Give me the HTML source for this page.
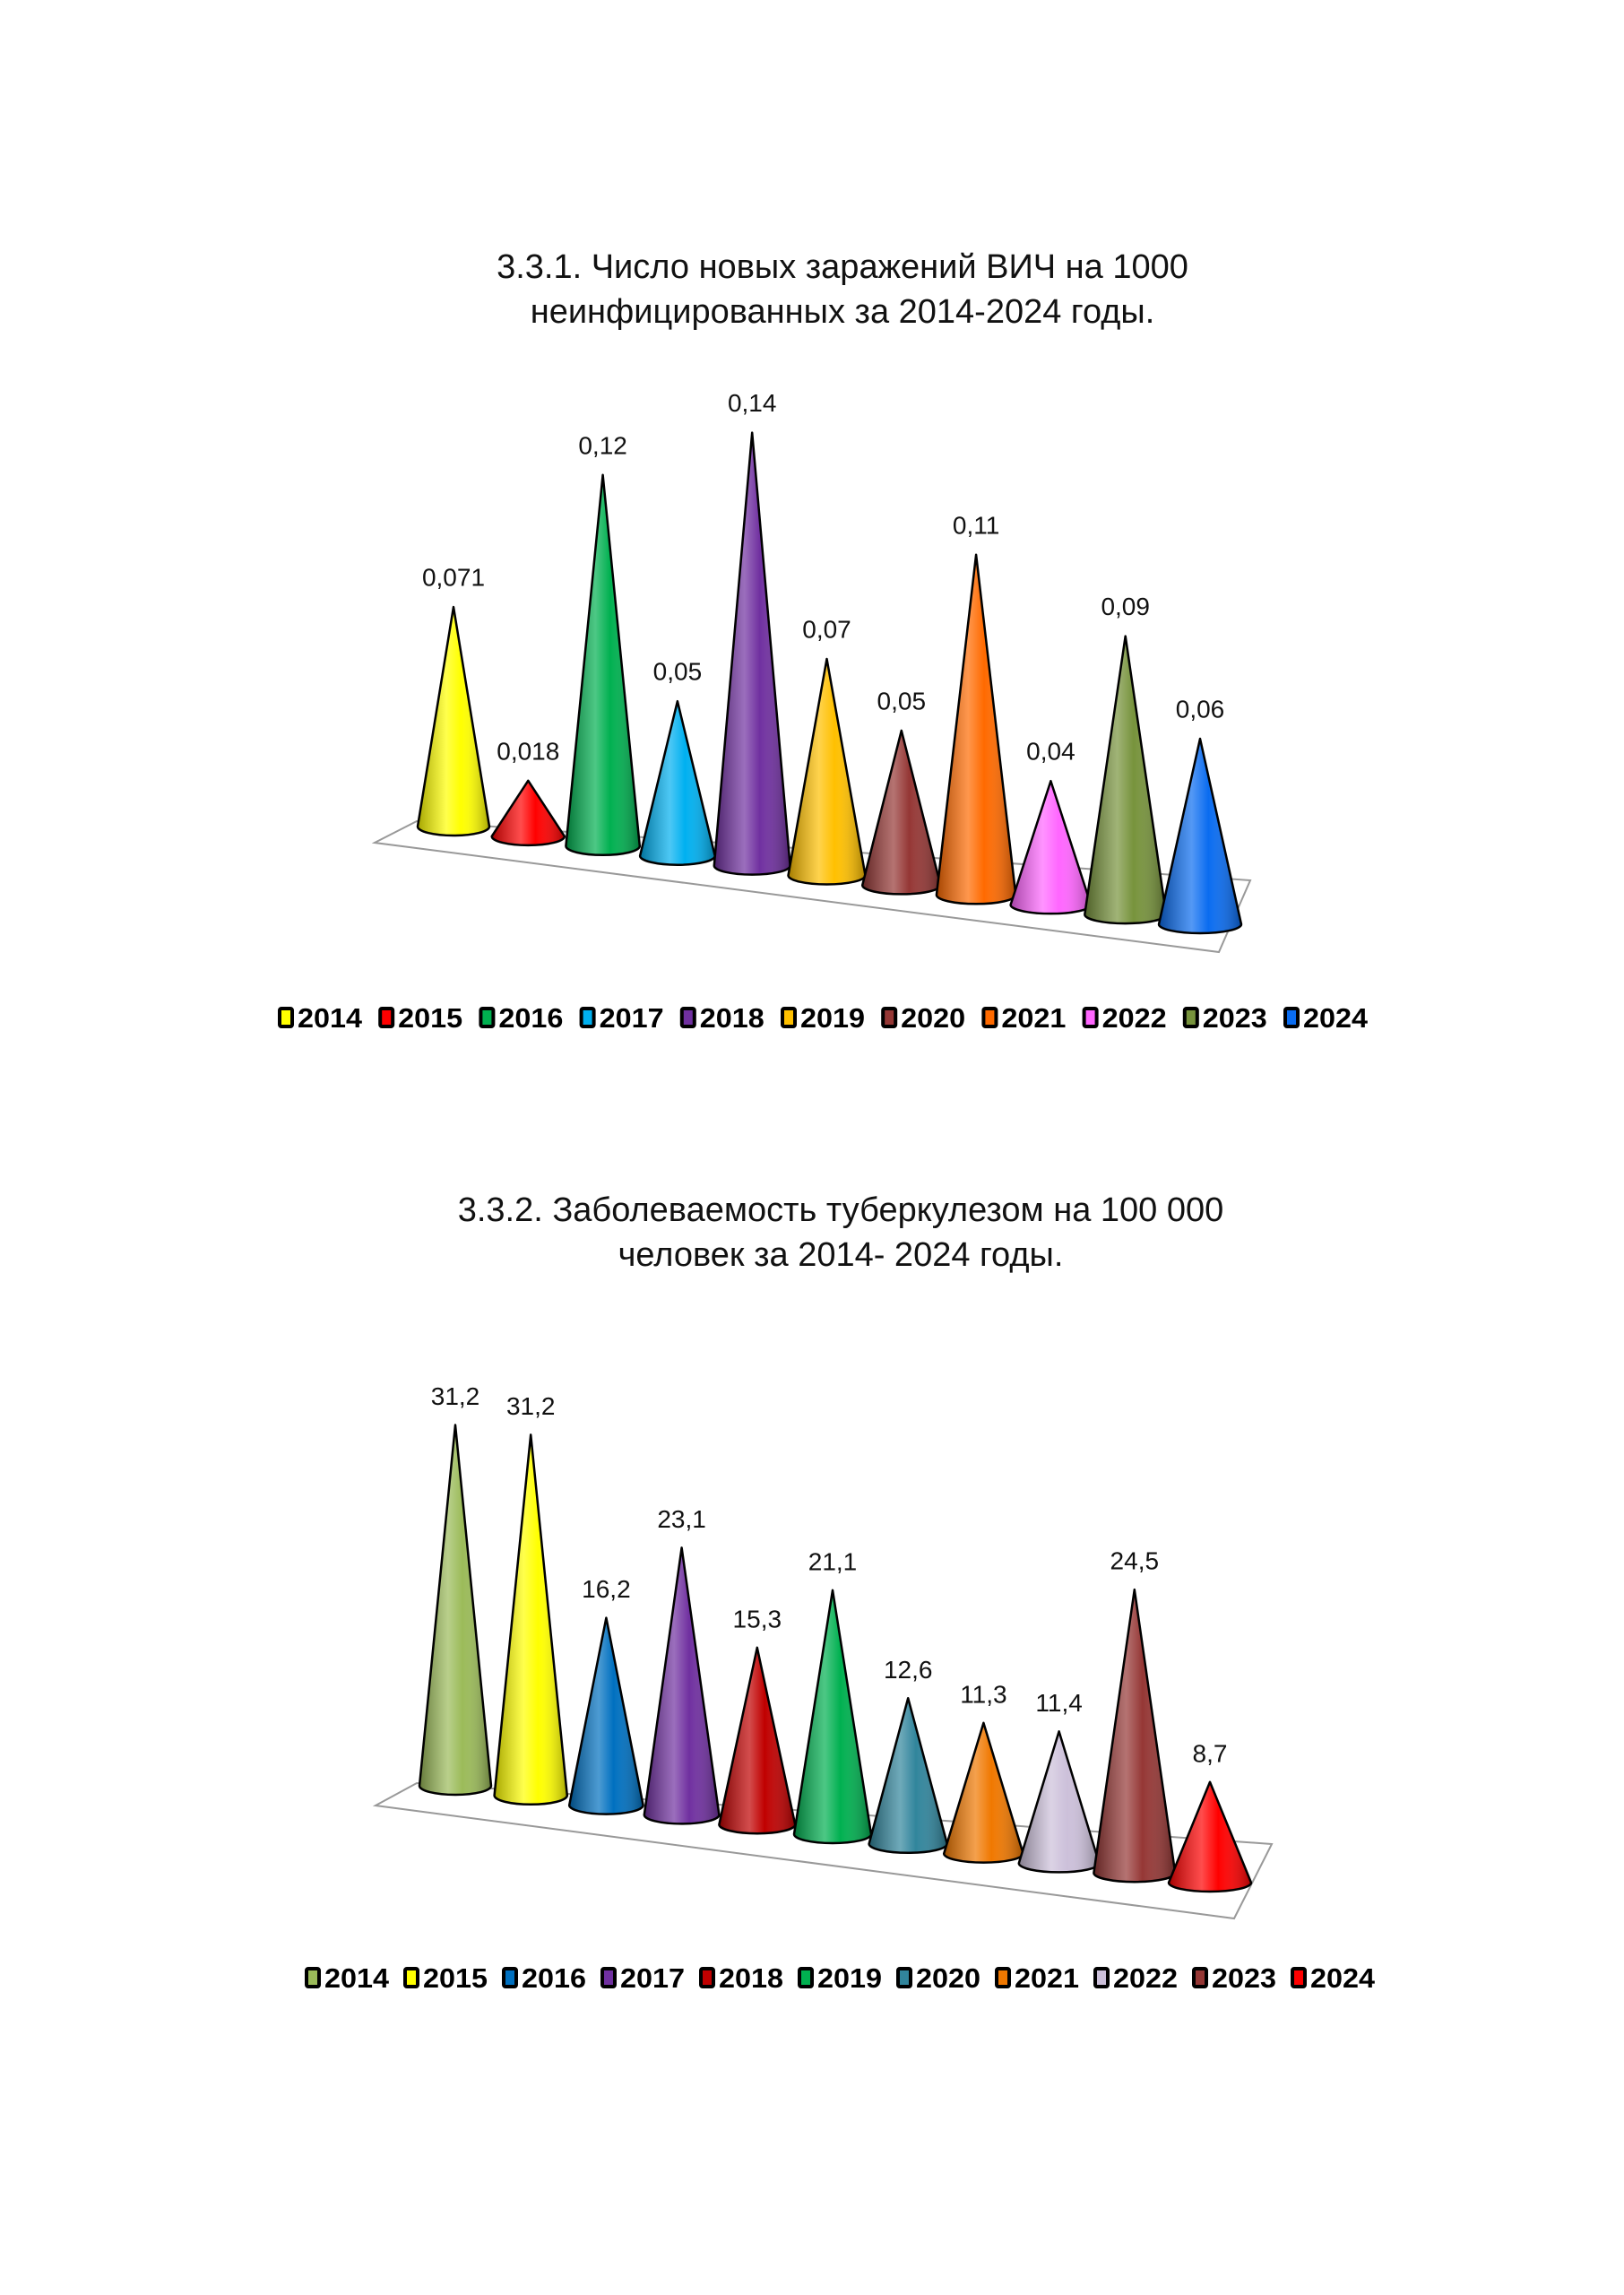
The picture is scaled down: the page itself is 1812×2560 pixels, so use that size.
<!DOCTYPE html>
<html><head><meta charset="utf-8"><style>
body{margin:0;background:#fff;}
svg{display:block;}
.t{font-family:"Liberation Sans",sans-serif;font-size:38px;fill:#111;}
.v{font-family:"Liberation Sans",sans-serif;font-size:28px;fill:#111;}
.lg{font-family:"Liberation Sans",sans-serif;font-size:31px;font-weight:bold;fill:#000;}
</style></head><body>
<svg id="root" width="1812" height="2560" viewBox="0 0 1812 2560" xmlns="http://www.w3.org/2000/svg">
<defs>
<linearGradient id="shade" x1="0" y1="0" x2="1" y2="0">
<stop offset="0" stop-color="#000" stop-opacity="0.35"/>
<stop offset="0.4" stop-color="#fff" stop-opacity="0.3"/>
<stop offset="0.6" stop-color="#fff" stop-opacity="0"/>
<stop offset="1" stop-color="#000" stop-opacity="0.35"/>
</linearGradient>
</defs>
<text class="t" x="940" y="310" text-anchor="middle">3.3.1. Число новых заражений ВИЧ на 1000</text>
<text class="t" x="940" y="360" text-anchor="middle">неинфицированных за 2014-2024 годы.</text>
<polygon points="418,940 465,916 1395,982 1360,1062" fill="none" stroke="#999" stroke-width="2"/>
<g id="c1"></g>
<g id="l1"></g>
<text class="t" x="938" y="1362" text-anchor="middle">3.3.2.  Заболеваемость туберкулезом на 100 000</text>
<text class="t" x="938" y="1412" text-anchor="middle">человек за 2014- 2024 годы.</text>
<polygon points="419,2014 465,1989 1419,2057 1377,2140" fill="none" stroke="#999" stroke-width="2"/>
<g id="c2"></g>
<g id="l2"></g>
</svg>
<script>
const years = ["2014","2015","2016","2017","2018","2019","2020","2021","2022","2023","2024"];
const hivValues = [0.071,0.018,0.12,0.05,0.14,0.07,0.05,0.11,0.04,0.09,0.06];
const hivLabels = ["0,071","0,018","0,12","0,05","0,14","0,07","0,05","0,11","0,04","0,09","0,06"];
const tbValues = [31.2,31.2,16.2,23.1,15.3,21.1,12.6,11.3,11.4,24.5,8.7];
const tbLabels = ["31,2","31,2","16,2","23,1","15,3","21,1","12,6","11,3","11,4","24,5","8,7"];
const hivColors = ["#ffff00","#ff0000","#00b050","#00b0f0","#7030a0","#ffc000","#953735","#ff6a00","#ff66ff","#77933c","#0a6cf0"];
const tbColors = ["#9bbb59","#ffff00","#0070c0","#7030a0","#c00000","#00b050","#31859c","#f07800","#ccc0da","#953735","#ff0000"];
const NS="http://www.w3.org/2000/svg";
function drawChart(gid, vals, labels, colors, cfg){
  const g=document.getElementById(gid);
  vals.forEach((v,i)=>{
    const cx=cfg.x0+i*cfg.dx, by=cfg.y0+i*cfg.dy, rx=cfg.rx0+i*0.6, ry=10;
    const ay=by-v*cfg.scale;
    const d=`M${cx-rx},${by} L${cx},${ay} L${cx+rx},${by} A${rx},${ry} 0 0 1 ${cx-rx},${by} Z`;
    const grp=document.createElementNS(NS,'g');
    
    
    const p=document.createElementNS(NS,'path');
    p.setAttribute('d',d);p.setAttribute('fill',colors[i]);
    
    
    grp.appendChild(p);
    const s=document.createElementNS(NS,'path');
    s.setAttribute('d',d);s.setAttribute('fill','url(#shade)');s.setAttribute('stroke','#000');s.setAttribute('stroke-width','2.5');s.setAttribute('stroke-linejoin','round');
    
    
    grp.appendChild(s);
    const t=document.createElementNS(NS,'text');
    t.setAttribute('class','v');t.setAttribute('x',cx);t.setAttribute('y',ay-cfg.lo);
    t.setAttribute('text-anchor','middle');t.setAttribute('dominant-baseline','central');
    t.textContent=labels[i];
    
    
    grp.appendChild(t);
    g.appendChild(grp);
  });
}
function drawLegend(gid, colors, x0, y, step){
  const g=document.getElementById(gid);
  years.forEach((yr,i)=>{
    const x=x0+i*step;
    const e=document.createElementNS(NS,'g');
    
    
    const r=document.createElementNS(NS,'rect');
    r.setAttribute('x',x+2);r.setAttribute('y',y-10);r.setAttribute('width',14);r.setAttribute('height',20);r.setAttribute('rx',2);
    r.setAttribute('fill',colors[i]);r.setAttribute('stroke','#000');r.setAttribute('stroke-width','4');
    
    
    e.appendChild(r);
    const t=document.createElementNS(NS,'text');
    t.setAttribute('class','lg');t.setAttribute('x',x+22);t.setAttribute('y',y+11);
    t.setAttribute('textLength','72');t.setAttribute('lengthAdjust','spacingAndGlyphs');
    t.textContent=yr;
    
    
    e.appendChild(t);
    g.appendChild(e);
  });
}
drawChart('c1',hivValues,hivLabels,hivColors,{x0:506,dx:83.3,y0:922,dy:10.9,rx0:40,scale:3450,lo:33});
drawChart('c2',tbValues,tbLabels,tbColors,{x0:508,dx:84.2,y0:1992,dy:10.8,rx0:40,scale:12.9,lo:32});
drawLegend('l1',hivColors,310,1135,112.2);
drawLegend('l2',tbColors,340,2206,110);
</script>
</body></html>
